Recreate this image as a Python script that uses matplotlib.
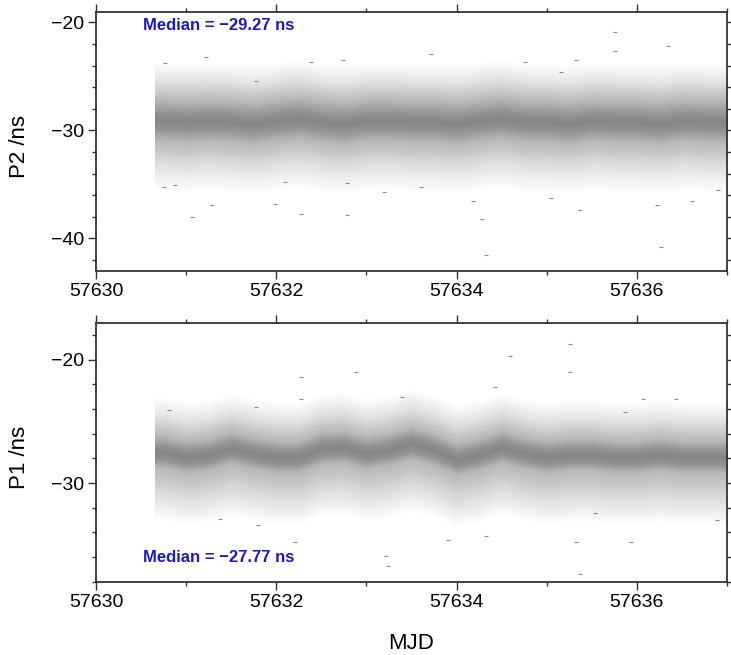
import numpy as np
import matplotlib
matplotlib.use("Agg")
from matplotlib import pyplot as plt
from matplotlib.ticker import MultipleLocator

plt.rcParams['font.family'] = ['Liberation Sans', 'DejaVu Sans']

mjd = [57630.65, 57630.75, 57631.0, 57631.25, 57631.5, 57631.75, 57632.0,
       57632.25, 57632.5, 57632.75, 57633.0, 57633.25, 57633.5, 57633.75,
       57634.0, 57634.25, 57634.5, 57634.75, 57635.0, 57635.25, 57635.5,
       57635.75, 57636.0, 57636.25, 57636.5, 57636.75, 57637.0]

# P2 running centre of the dense band (ns)
p2_centre = [-29.1, -29.1, -29.2, -29.1, -29.2, -29.4, -29.1, -28.9, -29.2,
             -29.4, -29.1, -29.1, -29.2, -29.2, -29.4, -29.1, -28.9, -29.2,
             -29.2, -29.4, -29.1, -29.2, -29.2, -29.4, -29.1, -29.2, -29.2]
# P1 running centre of the dense band (ns)
p1_centre = [-27.5, -27.5, -27.9, -27.7, -27.2, -27.6, -27.9, -27.9, -27.2,
             -27.1, -27.6, -27.3, -26.8, -27.3, -28.1, -27.7, -27.1, -27.6,
             -27.9, -27.7, -27.7, -27.9, -27.9, -27.7, -27.9, -27.9, -27.9]

# band half-widths (upper, lower), ns, from the centre out
p2_widths = [(0.0, 0.0), (0.8, 0.8), (1.9, 1.8), (3.8, 4.3), (5.5, 6.5)]
p1_widths = [(0.0, 0.0), (0.6, 0.6), (1.3, 1.2), (3.0, 3.8), (4.5, 5.5)]
# grey level of the dot cloud at each of those widths
band_grey = [0.52, 0.58, 0.71, 0.89, 1.0]

# isolated points outside the band
p2_out_x = [57630.77, 57631.22, 57632.39, 57632.74, 57630.76, 57630.88, 57631.07,
            57631.29, 57631.99, 57632.10, 57632.27, 57632.78, 57632.78, 57631.77,
            57633.72, 57635.76, 57636.35, 57635.76, 57635.33, 57634.76, 57635.16,
            57634.28, 57634.33, 57636.27, 57635.37, 57636.22, 57636.61, 57634.18,
            57635.05, 57636.90, 57633.19, 57633.61]
p2_out_y = [-23.8, -23.2, -23.7, -23.5, -35.2, -35.1, -38.0,
            -36.9, -36.8, -34.8, -37.7, -37.8, -34.9, -25.4,
            -22.9, -20.9, -22.2, -22.6, -23.5, -23.7, -24.6,
            -38.2, -41.5, -40.8, -37.4, -36.9, -36.5, -36.5,
            -36.3, -35.5, -35.7, -35.2]
p1_out_x = [57632.27, 57632.27, 57630.81, 57631.77, 57631.38, 57631.80, 57632.21,
            57632.89, 57635.26, 57635.26, 57634.59, 57634.43, 57633.39, 57636.07,
            57636.43, 57635.87, 57633.22, 57633.24, 57633.91, 57634.33, 57635.33,
            57635.37, 57635.94, 57635.54, 57636.89]
p1_out_y = [-21.4, -23.2, -24.1, -23.8, -32.9, -33.4, -34.8,
            -21.0, -18.7, -21.0, -19.7, -22.2, -23.0, -23.2,
            -23.2, -24.2, -35.9, -36.7, -34.6, -34.3, -34.8,
            -37.4, -34.8, -32.4, -33.0]

medians = [-29.27, -27.77]


def band(ax, centre, widths):
    # soft shading: nested fills from the outer edge inwards
    c = np.array(centre)
    hi = np.array([w[0] for w in widths])
    lo = np.array([w[1] for w in widths])
    k = np.arange(len(widths))
    for f in np.linspace(k[-1], 0, 60):
        g = np.interp(f, k, band_grey)
        ax.fill_between(mjd, c - np.interp(f, k, lo), c + np.interp(f, k, hi),
                        color=(g, g, g), lw=0)


def panel(ax, centre, widths, ox, oy, ylim, label, med, med_y):
    band(ax, centre, widths)
    ax.plot(ox, oy, ls='none', marker='_', ms=3, mew=0.8, color='#8a8a8a')
    ax.set_xlim(57630, 57637)
    ax.set_ylim(*ylim)
    ax.xaxis.set_major_locator(MultipleLocator(2))
    ax.xaxis.set_minor_locator(MultipleLocator(1))
    ax.yaxis.set_major_locator(MultipleLocator(10))
    ax.yaxis.set_minor_locator(MultipleLocator(2))
    ax.tick_params(which='both', direction='out', top=True, right=True,
                   labelsize=14, width=1, color='#333333', pad=2.5)
    ax.tick_params(which='major', length=6)
    ax.tick_params(which='minor', length=3)
    ax.ticklabel_format(useOffset=False, style='plain')
    for s in ax.spines.values():
        s.set_linewidth(1.3)
        s.set_color('#333333')
    ax.set_ylabel(label, fontsize=16)
    ax.yaxis.set_label_coords(-0.104, 0.48)
    ax.text(57630.52, med_y, 'Median = %s ns' % ('%.2f' % med).replace('-', '\u2212'),
            color='#1a1acc', fontsize=12, fontweight='bold', va='center', ha='left')


fig = plt.figure(figsize=(7.31, 6.55), dpi=100)
ax1 = fig.add_axes([0.1313, 0.5867, 0.8632, 0.3955])
ax2 = fig.add_axes([0.1313, 0.1119, 0.8632, 0.3954])

panel(ax1, p2_centre, p2_widths, p2_out_x, p2_out_y, (-43, -19), 'P2 /ns',
      medians[0], -20.3)
panel(ax2, p1_centre, p1_widths, p1_out_x, p1_out_y, (-38, -17), 'P1 /ns',
      medians[1], -36.0)
ax2.set_xlabel('MJD', fontsize=16, labelpad=16)

fig.savefig('out.png', dpi=100)
